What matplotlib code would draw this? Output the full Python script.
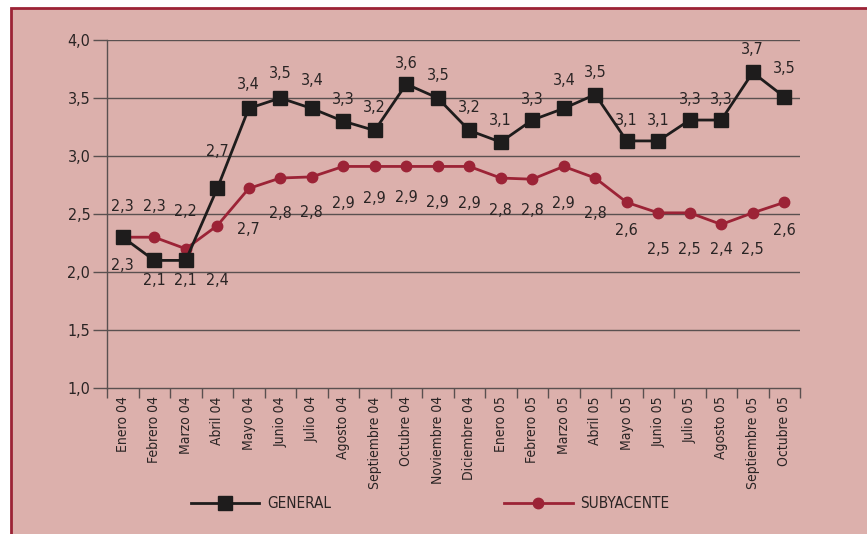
import matplotlib
matplotlib.use('agg')
import matplotlib.pyplot as plt
from matplotlib.patches import Rectangle
from matplotlib.lines import Line2D
from matplotlib.ticker import FuncFormatter, FixedLocator

plt.rcParams['font.family'] = ['DejaVu Sans']
plt.rcParams['font.stretch'] = 'condensed'

months = ['Enero 04', 'Febrero 04', 'Marzo 04', 'Abril 04', 'Mayo 04', 'Junio 04',
          'Julio 04', 'Agosto 04', 'Septiembre 04', 'Octubre 04', 'Noviembre 04',
          'Diciembre 04', 'Enero 05', 'Febrero 05', 'Marzo 05', 'Abril 05', 'Mayo 05',
          'Junio 05', 'Julio 05', 'Agosto 05', 'Septiembre 05', 'Octubre 05']

general = [2.30, 2.10, 2.10, 2.72, 3.41, 3.50, 3.41, 3.30, 3.22, 3.62, 3.50,
           3.22, 3.12, 3.31, 3.41, 3.53, 3.13, 3.13, 3.31, 3.31, 3.72, 3.51]
subyacente = [2.30, 2.30, 2.20, 2.40, 2.72, 2.81, 2.82, 2.91, 2.91, 2.91, 2.91,
              2.91, 2.81, 2.80, 2.91, 2.81, 2.60, 2.51, 2.51, 2.41, 2.51, 2.60]

general_labels = ['2,3', '2,1', '2,1', '2,7', '3,4', '3,5', '3,4', '3,3', '3,2', '3,6', '3,5',
                  '3,2', '3,1', '3,3', '3,4', '3,5', '3,1', '3,1', '3,3', '3,3', '3,7', '3,5']
subyacente_labels = ['2,3', '2,3', '2,2', '2,4', '2,7', '2,8', '2,8', '2,9', '2,9', '2,9', '2,9',
                     '2,9', '2,8', '2,8', '2,9', '2,8', '2,6', '2,5', '2,5', '2,4', '2,5', '2,6']

# label placement (pixels, up is positive)
gen_dy = [-28, -20, -20, 37, 24, 24, 28, 22, 23, 21, 23, 23, 22, 21, 28, 22, 20, 20, 21, 21, 23, 28]
sub_dy = [31, 31, 37, -55, -41, -35, -36, -37, -32, -31, -36, -37, -32, -31, -37, -35, -28, -37, -37, -25, -37, -28]

BG = '#dcb0ac'
RED = '#9c2336'
BLACK = '#1e1c1c'
GRID = '#5a5050'
TXT = '#2a2424'

fig = plt.figure(figsize=(8.67, 5.34), dpi=100)
fig.patch.set_facecolor('white')
fig.patches.append(Rectangle((11 / 867, -0.1), 1.2, 0.1 + (534 - 8) / 534,
                             transform=fig.transFigure, facecolor=BG,
                             edgecolor=RED, linewidth=2, zorder=-10))

ax = fig.add_axes([107 / 867, (534 - 388) / 534, 693 / 867, 348 / 534])
ax.set_facecolor('none')
ax.set_zorder(2)

x = list(range(len(months)))
ax.plot(x, general, color=BLACK, lw=2.0, marker='s', ms=10, mfc=BLACK, mec=BLACK, zorder=4,
        label='GENERAL', clip_on=False)
ax.plot(x, subyacente, color=RED, lw=2.0, marker='o', ms=7.5, mfc=RED, mec=RED, zorder=3,
        label='SUBYACENTE', clip_on=False)

for i in x:
    ax.annotate(general_labels[i], (i, general[i]), xytext=(0, gen_dy[i] * 0.72),
                textcoords='offset points', ha='center', va='center', fontsize=11.5, color=TXT)
    ax.annotate(subyacente_labels[i], (i, subyacente[i]), xytext=(0, sub_dy[i] * 0.72),
                textcoords='offset points', ha='center', va='center', fontsize=11.5, color=TXT)

ax.set_xlim(-0.5, len(months) - 0.5)
ax.set_ylim(1.0, 4.0)

yt = [1.0, 1.5, 2.0, 2.5, 3.0, 3.5, 4.0]
ax.set_yticks(yt)
ax.yaxis.set_major_formatter(FuncFormatter(lambda v, p: ('%.1f' % v).replace('.', ',')))
for v in yt[1:]:
    ax.axhline(v, color=GRID, lw=1.0, zorder=1)
ax.tick_params(axis='y', length=10, width=1.0, color=GRID, labelsize=11.5, labelcolor=TXT, pad=2)

ax.set_xticks(x)
ax.set_xticklabels(months, rotation=90, fontsize=10, color=TXT)
ax.xaxis.set_minor_locator(FixedLocator([i - 0.5 for i in range(len(months) + 1)]))
ax.tick_params(axis='x', which='major', length=0, pad=6)
ax.tick_params(axis='x', which='minor', length=7, width=1.0, color=GRID)

for s in ['top', 'right']:
    ax.spines[s].set_visible(False)
for s in ['left', 'bottom']:
    ax.spines[s].set_color(GRID)
    ax.spines[s].set_linewidth(1.0)

handles = [Line2D([], [], color=BLACK, lw=2.0, marker='s', ms=10),
           Line2D([], [], color=RED, lw=2.0, marker='o', ms=7.5)]
leg = fig.legend(handles, ['GENERAL', 'SUBYACENTE'], loc='center', ncol=2,
                 bbox_to_anchor=(430 / 867, (534 - 504) / 534), frameon=False,
                 handlelength=4.5, columnspacing=11.3, handletextpad=0.5, fontsize=11)
for t in leg.get_texts():
    t.set_color(TXT)

fig.savefig('out.png', dpi=100)
